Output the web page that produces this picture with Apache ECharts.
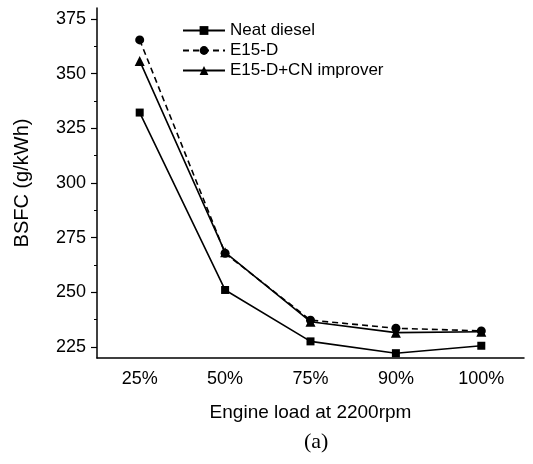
<!DOCTYPE html>
<html>
<head>
<meta charset="utf-8">
<script src="https://cdn.jsdelivr.net/npm/echarts@6/dist/echarts.min.js"></script>
<style>html,body{margin:0;padding:0;background:#fff}#c{width:533px;height:464px}</style>
</head>
<body>
<div id="c"></div>
<script>
var categories = ['25%', '50%', '75%', '90%', '100%'];
var neatDiesel = [332.2, 251.1, 227.6, 222.2, 225.6];
var e15d = [365.4, 267.9, 237.3, 233.6, 232.4];
var e15dCN = [355.8, 268.3, 236.6, 231.6, 232.0];
var yMajorTicks = [225, 250, 275, 300, 325, 350, 375];
var yMinorTicks = [237.5, 262.5, 287.5, 312.5, 337.5, 362.5];

var font = 'Liberation Sans, Arial, sans-serif';
var ink = '#000';
var chart = echarts.init(document.getElementById('c'));
chart.setOption({
  animation: false,
  backgroundColor: '#fff',
  grid: { left: 97, right: 9, top: 8, bottom: 106 },
  legend: {
    orient: 'vertical', left: 182, top: 22, padding: 0,
    itemWidth: 42, itemHeight: 11, itemGap: 3,
    textStyle: { fontFamily: font, fontSize: 17, color: ink },
    data: ['Neat diesel', 'E15-D', 'E15-D+CN improver']
  },
  xAxis: {
    type: 'category', data: categories, boundaryGap: true,
    name: 'Engine load at 2200rpm', nameLocation: 'middle', nameGap: 45,
    nameTextStyle: { fontFamily: font, fontSize: 19, color: ink },
    axisLine: { lineStyle: { color: ink, width: 1.5 } },
    axisTick: { alignWithLabel: true, length: 6, lineStyle: { color: ink, width: 1.2 } },
    axisLabel: { fontFamily: font, fontSize: 18, color: ink, margin: 12 },
    splitLine: { show: false }
  },
  yAxis: [{
    type: 'value', min: 220, max: 380,
    name: 'BSFC (g/kWh)', nameLocation: 'middle', nameGap: 65,
    nameTextStyle: { fontFamily: font, fontSize: 20, color: ink },
    axisLine: { show: true, lineStyle: { color: ink, width: 1.5 } },
    axisTick: { show: true, length: 6, customValues: yMajorTicks, lineStyle: { color: ink, width: 1.2 } },
    axisLabel: { fontFamily: font, fontSize: 18, color: ink, margin: 11, customValues: yMajorTicks },
    splitLine: { show: false }
  }, {
    type: 'value', min: 220, max: 380, position: 'left', offset: 0,
    axisLine: { show: false },
    axisTick: { show: true, length: 3, customValues: yMinorTicks, lineStyle: { color: ink, width: 1 } },
    axisLabel: { show: false },
    splitLine: { show: false }
  }],
  series: [
    { name: 'Neat diesel', type: 'line', data: neatDiesel, symbol: 'rect', symbolSize: 8,
      itemStyle: { color: ink }, lineStyle: { color: ink, width: 1.6 } },
    { name: 'E15-D', type: 'line', data: e15d, symbol: 'circle', symbolSize: 9,
      itemStyle: { color: ink }, lineStyle: { color: ink, width: 1.6, type: [6, 4] } },
    { name: 'E15-D+CN improver', type: 'line', data: e15dCN, symbol: 'triangle', symbolSize: 10,
      itemStyle: { color: ink }, lineStyle: { color: ink, width: 1.6 } }
  ],
  graphic: [{
    type: 'text', left: 304, top: 431,
    style: { text: '(a)', font: '22px "Liberation Serif", "Times New Roman", serif', fill: ink }
  }]
});
</script>
</body>
</html>
